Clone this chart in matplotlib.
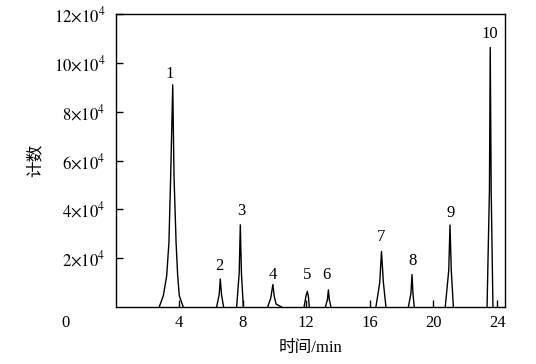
import numpy as np
import matplotlib
matplotlib.use("Agg")
import matplotlib.pyplot as plt

plt.rcParams['font.family'] = ['Liberation Serif', 'Noto Sans CJK SC']
plt.rcParams['mathtext.fontset'] = 'stix'

# ========== DATA (counts in units of 1e4) ==========
peak_times = [
    [2.75, 3.01, 3.22, 3.36, 3.47, 3.60, 3.68, 3.81, 3.91, 4.01, 4.26],
    [6.36, 6.52, 6.59, 6.67, 6.80],
    [7.62, 7.78, 7.85, 7.92, 8.04],
    [9.57, 9.76, 9.90, 9.98, 10.10, 10.45],
    [11.86, 11.98, 12.06, 12.13, 12.19],
    [13.20, 13.33, 13.39, 13.45, 13.55],
    [16.38, 16.62, 16.73, 16.85, 17.01],
    [18.42, 18.58, 18.65, 18.71, 18.79],
    [20.74, 20.96, 21.04, 21.12, 21.25],
    [23.37, 23.52, 23.57, 23.63, 23.74],
]
peak_counts = [
    [0, 0.47, 1.29, 2.64, 5.37, 9.11, 5.37, 2.64, 1.29, 0.47, 0],
    [0, 0.50, 1.15, 0.50, 0],
    [0, 1.40, 3.37, 1.40, 0],
    [0, 0.35, 0.92, 0.45, 0.12, 0],
    [0, 0.45, 0.64, 0.45, 0],
    [0, 0.30, 0.70, 0.30, 0],
    [0, 1.00, 2.28, 1.00, 0],
    [0, 0.55, 1.33, 0.55, 0],
    [0, 1.50, 3.36, 1.50, 0],
    [0, 4.80, 10.64, 4.80, 0],
]
peak_labels = ['1', '2', '3', '4', '5', '6', '7', '8', '9', '10']
label_x = [3.42, 6.51, 7.89, 9.87, 12.08, 13.29, 16.69, 18.67, 21.07, 23.55]
label_y = [9.24, 1.37, 3.61, 1.00, 1.00, 1.00, 2.55, 1.57, 3.53, 10.88]

x_ticks = [4, 8, 12, 16, 20, 24]
y_ticks = [2, 4, 6, 8, 10, 12]

# ========== PLOT ==========
fig = plt.figure(figsize=(5.36, 3.64), dpi=100)
ax = fig.add_axes([0.2155, 0.1566, 0.7267, 0.8041])

for t, c in zip(peak_times, peak_counts):
    ax.plot(t, np.array(c) * 1e4, color='black', lw=1.0)

for lab, lx, ly in zip(peak_labels, label_x, label_y):
    ax.text(lx, ly * 1e4, lab, ha='center', va='bottom', fontsize=12)

ax.set_xlim(0, 24.5)
ax.set_ylim(0, 12e4)
ax.set_xticks(x_ticks)
ax.set_xticklabels([str(v) for v in x_ticks])
ax.set_yticks([v * 1e4 for v in y_ticks])
ax.set_yticklabels([r'$%d{\times}10^{4}$' % v for v in y_ticks])
ax.tick_params(direction='in', length=5, width=1.0, labelsize=12, pad=6)
ax.tick_params(axis='y', pad=7)
for s in ax.spines.values():
    s.set_linewidth(1.0)

# shared origin label
fig.text(66 / 536, 1 - 323 / 364, '0', ha='center', va='center', fontsize=12)

ax.set_xlabel('时间/min', fontsize=12, labelpad=6)
ax.set_ylabel('计数', fontsize=12, labelpad=8)

fig.savefig('out.png', dpi=100)
